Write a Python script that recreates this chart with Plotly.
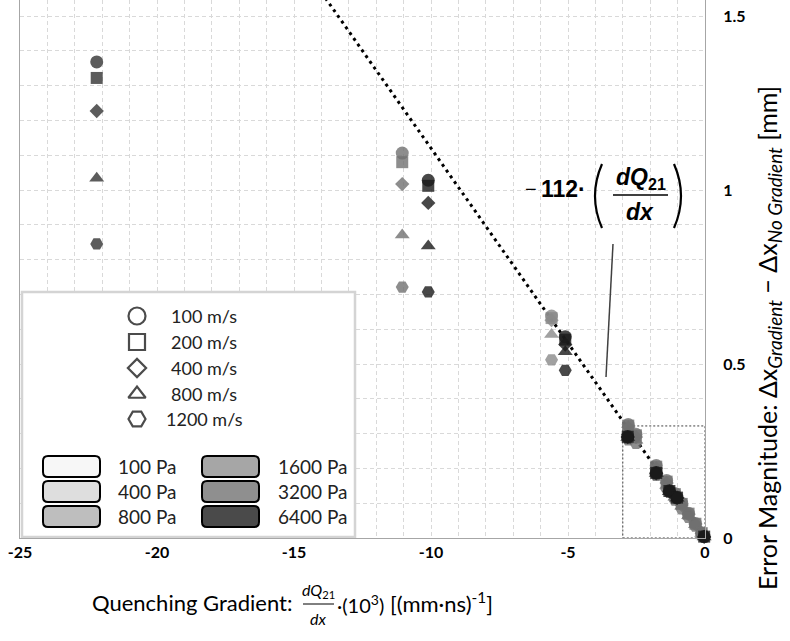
import plotly.graph_objects as go

# ---------------- data ----------------
velocity_labels = ["100 m/s", "200 m/s", "400 m/s", "800 m/s", "1200 m/s"]
pressure_labels = ["100 Pa", "400 Pa", "800 Pa", "1600 Pa", "3200 Pa", "6400 Pa"]

# quenching gradient (x 10^3) of each measurement group and its pressure
group_grad = [-22.2, -11.05, -10.1, -5.6, -5.1,
              -2.80, -2.52, -1.78, -1.40, -1.10, -0.85, -0.60, -0.35, -0.12,
              -2.82, -1.78, -1.30, -1.02, -0.03]
group_pressure = ["3200 Pa", "1600 Pa", "6400 Pa", "800 Pa", "6400 Pa",
                  "1600 Pa", "1600 Pa", "1600 Pa", "1600 Pa", "1600 Pa", "1600 Pa", "1600 Pa", "1600 Pa", "1600 Pa",
                  "6400 Pa", "6400 Pa", "6400 Pa", "6400 Pa", "6400 Pa"]
# error magnitude [mm] per velocity, one value per group
err_100ms = [1.368, 1.106, 1.028, 0.638, 0.578,
             0.326, 0.298, 0.208, 0.165, 0.128, 0.100, 0.071, 0.042, 0.015,
             0.292, 0.188, 0.136, 0.117, 0.004]
err_200ms = [1.322, 1.080, 1.012, 0.632, 0.570,
             0.323, 0.295, 0.205, 0.162, 0.126, 0.098, 0.070, 0.041, 0.014,
             0.291, 0.187, 0.135, 0.116, 0.004]
err_400ms = [1.227, 1.017, 0.963, 0.626, 0.556,
             0.318, 0.290, 0.200, 0.158, 0.123, 0.095, 0.068, 0.040, 0.014,
             0.290, 0.186, 0.134, 0.115, 0.003]
err_800ms = [1.034, 0.871, 0.839, 0.585, 0.535,
             0.305, 0.281, 0.192, 0.151, 0.117, 0.091, 0.064, 0.038, 0.013,
             0.289, 0.185, 0.133, 0.114, 0.003]
err_1200ms = [0.845, 0.721, 0.707, 0.512, 0.482,
              0.282, 0.272, 0.180, 0.141, 0.109, 0.084, 0.059, 0.034, 0.012,
              0.288, 0.184, 0.132, 0.114, 0.003]

fit_coeff = -112          # error [mm] = -112 * dQ21/dx  (x given in 10^3 units)
fit_x = [-14.0, 0.0]
inset_x = -3.0
inset_y = 0.322

x_tick_vals = [-25, -20, -15, -10, -5, 0]
x_tick_text = ["-25", "-20", "-15", "-10", "-5", "0"]
y_tick_vals = [0, 0.5, 1, 1.5]
y_tick_text = ["0", "0.5", "1", "1.5"]

# ---------------- style ----------------
W, H = 790, 641
PL, PR, PT, PB = 20, 705, 0, 538
XR = [-25, 0]
YR = [0, 1.546]
FONT = "Lato"

SYMBOL = {"100 m/s": "circle", "200 m/s": "square", "400 m/s": "diamond",
          "800 m/s": "triangle-up", "1200 m/s": "hexagon2"}
DATA_SIZE = {"circle": 13, "square": 12, "diamond": 11, "triangle-up": 13, "hexagon2": 13}
LEG_SIZE = {"circle": 17, "square": 16, "diamond": 14, "triangle-up": 15, "hexagon2": 17}
MARKER_SHADE = {"800 Pa": "#8a8a8a", "1600 Pa": "#707070", "3200 Pa": "#333333", "6400 Pa": "#1a1a1a"}
SWATCH = {"100 Pa": "#f7f7f7", "400 Pa": "#dedede", "800 Pa": "#bebebe",
          "1600 Pa": "#a6a6a6", "3200 Pa": "#8f8f8f", "6400 Pa": "#4a4a4a"}


def dx(px):
    return XR[0] + (px - PL) / (PR - PL) * (XR[1] - XR[0])


def dy(py):
    return YR[0] + (PB - py) / (PB - PT) * (YR[1] - YR[0])


def ppx(px):
    return (px - PL) / (PR - PL)


def ppy(py):
    return (PB - py) / (PB - PT)


fig = go.Figure()

# fitted line
fig.add_trace(go.Scatter(
    x=fit_x, y=[fit_coeff / 1000 * v for v in fit_x], mode="lines",
    line=dict(color="black", width=3, dash="3px,4px"), hoverinfo="skip", showlegend=False))

series = [err_100ms, err_200ms, err_400ms, err_800ms, err_1200ms]
for g, gx in enumerate(group_grad):
    ys = [s[g] for s in series]
    syms = [SYMBOL[v] for v in velocity_labels]
    fig.add_trace(go.Scatter(
        x=[gx] * len(ys), y=ys, mode="markers",
        marker=dict(symbol=syms, size=[DATA_SIZE[s] for s in syms],
                    color=MARKER_SHADE[group_pressure[g]], opacity=0.8, line=dict(width=0)),
        name=group_pressure[g], showlegend=False, cliponaxis=False))

shapes = []
annotations = []

# inset rectangle
shapes.append(dict(type="rect", xref="x", yref="y", x0=inset_x, x1=0, y0=0, y1=inset_y,
                   line=dict(color="#404040", width=1, dash="2px,2px"), layer="between"))

# legend box
shapes.append(dict(type="rect", xref="x", yref="y", x0=dx(22), x1=dx(355), y0=dy(537), y1=dy(292),
                   line=dict(color="#d4d4d4", width=2.5), fillcolor="white", layer="between"))

# velocity legend
leg_rows = [316, 342, 368, 394, 419]
fig.add_trace(go.Scatter(
    x=[dx(137)] * 5, y=[dy(r) for r in leg_rows], mode="markers",
    marker=dict(symbol=[SYMBOL[v] for v in velocity_labels],
                size=[LEG_SIZE[SYMBOL[v]] for v in velocity_labels],
                color="white", line=dict(color="black", width=2.2)),
    hoverinfo="skip", showlegend=False, cliponaxis=False))
for v, r in zip(velocity_labels, leg_rows):
    annotations.append(dict(x=dx(204), y=dy(r), xref="x", yref="y", text=v, showarrow=False,
                            xanchor="center", yanchor="middle",
                            font=dict(family=FONT, size=18, color="#222")))


def rrect(x0, y0, x1, y1, r):
    pts = lambda a, b: f"{dx(a):.5f},{dy(b):.5f}"
    return (f"M {pts(x0 + r, y0)} L {pts(x1 - r, y0)} Q {pts(x1, y0)} {pts(x1, y0 + r)} "
            f"L {pts(x1, y1 - r)} Q {pts(x1, y1)} {pts(x1 - r, y1)} L {pts(x0 + r, y1)} "
            f"Q {pts(x0, y1)} {pts(x0, y1 - r)} L {pts(x0, y0 + r)} Q {pts(x0, y0)} {pts(x0 + r, y0)} Z")


p_rows = [466.5, 491.5, 516.5]
for i, p in enumerate(pressure_labels):
    col, row = divmod(i, 3)
    sx0 = [43, 202][col]
    tx = [116, 276][col]
    cy = p_rows[row]
    shapes.append(dict(type="path", xref="x", yref="y", path=rrect(sx0, cy - 10.5, sx0 + 57, cy + 10.5, 5),
                       fillcolor=SWATCH[p], line=dict(color="black", width=2), layer="above"))
    annotations.append(dict(x=dx(tx), y=dy(cy), xref="x", yref="y", text=p, showarrow=False,
                            xanchor="left", yanchor="middle",
                            font=dict(family=FONT, size=19, color="#222")))

# formula annotation
fb = "Liberation Sans"
annotations.append(dict(x=dx(531), y=dy(189), xref="x", yref="y", text="\u2212", showarrow=False,
                        font=dict(family=fb, size=20, color="black")))
annotations.append(dict(x=dx(563), y=dy(189), xref="x", yref="y", text="<b>112\u00b7</b>", showarrow=False,
                        font=dict(family=fb, size=23, color="black")))
annotations.append(dict(x=dx(641), y=dy(178), xref="x", yref="y", text="<b><i>dQ</i><sub>21</sub></b>",
                        showarrow=False, font=dict(family=fb, size=23, color="black")))
annotations.append(dict(x=dx(640), y=dy(212), xref="x", yref="y", text="<b><i>dx</i></b>",
                        showarrow=False, font=dict(family=fb, size=23, color="black")))
shapes.append(dict(type="line", xref="x", yref="y", x0=dx(613), x1=dx(668), y0=dy(195), y1=dy(195),
                   line=dict(color="black", width=1.5), layer="above"))
shapes.append(dict(type="path", xref="x", yref="y",
                   path=f"M {dx(602)},{dy(164)} Q {dx(588)},{dy(196)} {dx(602)},{dy(228)}",
                   line=dict(color="black", width=2.2), layer="above"))
shapes.append(dict(type="path", xref="x", yref="y",
                   path=f"M {dx(674)},{dy(164)} Q {dx(688)},{dy(196)} {dx(674)},{dy(228)}",
                   line=dict(color="black", width=2.2), layer="above"))
# leader line
shapes.append(dict(type="line", xref="x", yref="y", x0=dx(613), y0=dy(244), x1=dx(606), y1=dy(377),
                   line=dict(color="#404040", width=1.5), layer="above"))

# x-axis title pieces
annotations.append(dict(x=ppx(294), y=ppy(603), xref="paper", yref="paper", text="Quenching Gradient:",
                        showarrow=False, xanchor="right", yanchor="middle",
                        font=dict(family=FONT, size=22, color="black")))
annotations.append(dict(x=ppx(318), y=ppy(590), xref="paper", yref="paper", text="<i>dQ</i><sub>21</sub>",
                        showarrow=False, xanchor="center", yanchor="middle",
                        font=dict(family=FONT, size=16, color="black")))
annotations.append(dict(x=ppx(318), y=ppy(618), xref="paper", yref="paper", text="<i>dx</i>",
                        showarrow=False, xanchor="center", yanchor="middle",
                        font=dict(family=FONT, size=16, color="black")))
shapes.append(dict(type="line", xref="paper", yref="paper", x0=ppx(303), x1=ppx(334), y0=ppy(604), y1=ppy(604),
                   line=dict(color="black", width=1)))
annotations.append(dict(x=ppx(335), y=ppy(604), xref="paper", yref="paper", text="\u00b7(10<sup>3</sup>)",
                        showarrow=False, xanchor="left", yanchor="middle",
                        font=dict(family=FONT, size=20, color="black")))
annotations.append(dict(x=ppx(388), y=ppy(603), xref="paper", yref="paper", text="[(mm\u00b7ns)<sup>-1</sup>]",
                        showarrow=False, xanchor="left", yanchor="middle",
                        font=dict(family=FONT, size=22, color="black")))

# y-axis title
sub_style = '<span style="font-size:19px">'
annotations.append(dict(
    x=ppx(769), y=ppy(338), xref="paper", yref="paper", textangle=-90, showarrow=False,
    xanchor="center", yanchor="middle",
    text=("Error Magnitude: \u0394x<sub>" + sub_style + "<i>Gradient</i></span></sub> \u2212 \u0394x<sub>"
          + sub_style + "<i>No Gradient</i></span></sub> [mm]"),
    font=dict(family=FONT, size=25, color="black")))

grid = "#d9d9d9"
fig.update_layout(
    width=W, height=H, margin=dict(l=PL, r=W - PR, t=PT, b=H - PB),
    paper_bgcolor="white", plot_bgcolor="white", showlegend=False,
    shapes=shapes, annotations=annotations,
    xaxis=dict(range=XR, tickvals=x_tick_vals, ticktext=x_tick_text, showgrid=True, gridcolor=grid,
               griddash="4px,3px", gridwidth=1, zeroline=False, showline=True, linecolor="#a6a6a6",
               linewidth=1, ticks="", tickfont=dict(family=FONT, size=16, color="black", weight="bold"),
               minor=dict(dtick=1, showgrid=True, gridcolor=grid, griddash="4px,3px", gridwidth=1)),
    yaxis=dict(range=YR, side="right", tickvals=y_tick_vals, ticktext=y_tick_text, showgrid=True,
               gridcolor=grid, griddash="4px,3px", gridwidth=1, zeroline=False, showline=True, mirror=True,
               linecolor="#a6a6a6", linewidth=1, ticks="", ticklabelstandoff=14,
               tickfont=dict(family=FONT, size=16, color="black", weight="bold"),
               minor=dict(dtick=0.1, showgrid=True, gridcolor=grid, griddash="4px,3px", gridwidth=1)),
)

fig.write_html("out.html")
